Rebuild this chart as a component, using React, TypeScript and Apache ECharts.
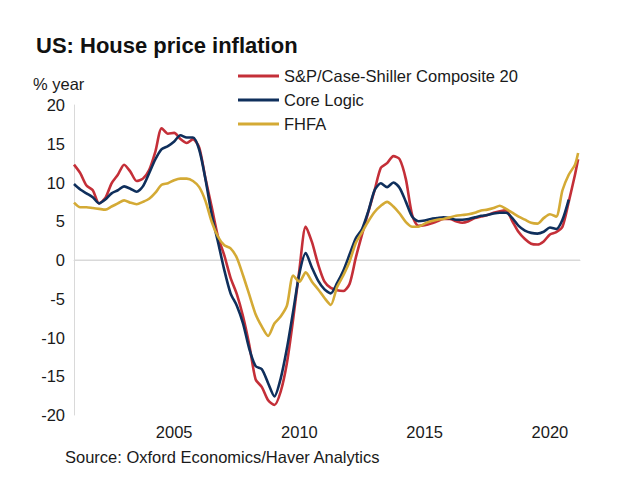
import React, { useEffect, useRef } from "react";
import * as echarts from "echarts";

// Quarterly time grid (decimal years), last point = Feb 2021
const quarterTimes: number[] = [
  ...Array.from({ length: 81 }, (_, i) => 2001 + i * 0.25),
  2021.125,
];

const seriesNames = ["S&P/Case-Shiller Composite 20", "Core Logic", "FHFA"];
const seriesColors = ["#c42f38", "#0f2f5c", "#d4aa35"];

// % year, S&P/Case-Shiller Composite 20
const caseShiller: (number | null)[] = [
  12.3, 11.2, 9.6, 9.0,
  7.3, 8.0, 9.9, 11.0,
  12.3, 11.4, 10.2, 10.5,
  11.6, 14.0, 17.0, 16.3,
  16.4, 15.6, 15.1, 15.6,
  14.5, 10.5, 6.8, 3.0,
  0.6, -2.3, -4.4, -7.3,
  -11.0, -15.4, -16.4, -18.1,
  -18.7, -17.0, -13.3, -7.6,
  -1.2, 4.3, 2.3, -0.6,
  -2.8, -3.6, -3.9, -4.0,
  -3.1, 0.3, 3.3, 6.2,
  9.0, 11.9, 12.5, 13.4,
  13.0, 10.4, 5.8, 4.4,
  4.5, 4.7, 5.0, 5.3,
  5.3, 5.0, 4.8, 5.0,
  5.4, 5.6, 5.8, 6.1,
  6.3, 6.4, 5.0, 3.6,
  2.7, 2.1, 2.0, 2.4,
  3.3, 3.6, 4.3, 7.5,
  11.0, 13.0,
];

// % year, Core Logic
const coreLogic: (number | null)[] = [
  9.8, 9.1, 8.6, 8.1,
  7.3, 7.8, 8.6, 9.0,
  9.5, 9.2, 8.8, 9.5,
  11.2, 13.0, 14.3, 14.7,
  15.3, 16.1, 15.8, 15.8,
  14.2, 10.4, 5.8, 2.3,
  -1.3, -4.3, -5.9, -8.2,
  -11.5, -13.7, -14.1, -15.9,
  -17.6, -15.3, -11.4, -6.6,
  -1.7, 0.9, -1.0, -2.7,
  -3.8, -4.3, -3.0, -1.4,
  0.7, 2.8, 4.0, 6.3,
  9.0, 9.9, 9.4, 10.0,
  9.3, 7.5, 5.6, 5.0,
  5.1, 5.3, 5.4, 5.5,
  5.4, 5.2, 5.2, 5.3,
  5.5, 5.7, 5.8, 6.0,
  6.1, 6.1, 5.4, 4.4,
  3.8, 3.5, 3.4, 3.65,
  4.2, 4.0, 5.2, 7.8,
  null, null,
];

// % year, FHFA
const fhfa: (number | null)[] = [
  7.4, 6.8, 6.8, 6.7,
  6.6, 6.5, 6.9, 7.3,
  7.7, 7.4, 7.2, 7.5,
  7.9, 8.7, 9.7, 9.9,
  10.3, 10.5, 10.5, 10.2,
  9.4, 7.6, 4.9, 3.0,
  1.9, 1.5, 0.3, -2.0,
  -4.5, -7.0, -8.6, -9.8,
  -8.2, -7.3, -5.9, -2.0,
  -2.8, -1.6, -2.8, -3.8,
  -4.9, -5.8, -3.5, -2.0,
  -0.2, 2.2, 3.6, 5.0,
  6.2, 7.0, 7.5, 6.9,
  6.0, 4.9, 4.3, 4.3,
  4.7, 5.0, 5.2, 5.3,
  5.5, 5.7, 5.8, 5.9,
  6.1, 6.4, 6.5, 6.7,
  7.0, 6.6, 6.1, 5.6,
  5.2, 4.8, 4.7, 5.4,
  5.9, 5.6, 9.0, 11.0,
  12.3, 13.8,
];

const xTickYears = [2005, 2010, 2015, 2020];
const yMin = -20;
const yMax = 20;
const yStep = 5;

const FONT = "'Liberation Sans', Arial, sans-serif";
const TEXT = "#1a1a1a";

export default function App() {
  const ref = useRef<HTMLDivElement>(null);

  useEffect(() => {
    document.body.style.margin = "0";
    if (!ref.current) return;
    const chart = echarts.init(ref.current, undefined, { renderer: "svg" });

    const allSeries = [caseShiller, coreLogic, fhfa];

    chart.setOption({
      animation: false,
      backgroundColor: "#ffffff",
      textStyle: { fontFamily: FONT },
      title: {
        text: "US: House price inflation",
        left: 31,
        top: 29,
        textStyle: { fontFamily: FONT, fontSize: 22, fontWeight: "bold", color: "#111" },
      },
      legend: {
        data: seriesNames,
        orient: "vertical",
        left: 233,
        top: 61,
        itemWidth: 41,
        itemHeight: 3,
        itemGap: 4,
        icon: "rect",
        selectedMode: false,
        textStyle: {
          fontFamily: FONT,
          fontSize: 16.5,
          color: TEXT,
          lineHeight: 20,
        },
      },
      grid: { left: 74, right: 50, top: 105, bottom: 84, containLabel: false },
      xAxis: {
        type: "value",
        min: 2001,
        max: 2021.2,
        axisLine: { show: true, lineStyle: { color: "#d9d9d9", width: 1 } },
        axisTick: { show: false },
        splitLine: { show: false },
        axisLabel: {
          customValues: xTickYears,
          fontFamily: FONT,
          fontSize: 16.5,
          color: TEXT,
          margin: 8,
          formatter: (v: number) => String(v),
        },
      },
      yAxis: {
        type: "value",
        min: yMin,
        max: yMax,
        interval: yStep,
        axisLine: { show: true, lineStyle: { color: "#d9d9d9", width: 1 } },
        axisTick: { show: false },
        splitLine: { show: false },
        axisLabel: { fontFamily: FONT, fontSize: 16.5, color: TEXT, margin: 9 },
      },
      graphic: [
        {
          type: "text",
          left: 33,
          top: 75,
          style: { text: "% year", font: `16.5px ${FONT}`, fill: TEXT },
        },
        {
          type: "text",
          left: 65,
          top: 448,
          style: {
            text: "Source: Oxford Economics/Haver Analytics",
            font: `16.5px ${FONT}`,
            fill: TEXT,
          },
        },
      ],
      series: [
        {
          name: "zero",
          type: "line",
          silent: true,
          symbol: "none",
          data: [
            [2001, 0],
            [2021.2, 0],
          ],
          lineStyle: { color: "#d9d9d9", width: 1 },
          z: 1,
        },
        ...allSeries.map((arr, k) => ({
          name: seriesNames[k],
          type: "line",
          symbol: "none",
          showSymbol: false,
          smooth: 0.25,
          connectNulls: false,
          data: quarterTimes.map((t, i) => [t, arr[i]]),
          color: seriesColors[k],
          lineStyle: { color: seriesColors[k], width: 2.6 },
          z: 2 + k,
        })),
      ],
    });

    return () => chart.dispose();
  }, []);

  return <div ref={ref} style={{ width: 630, height: 499 }} />;
}
